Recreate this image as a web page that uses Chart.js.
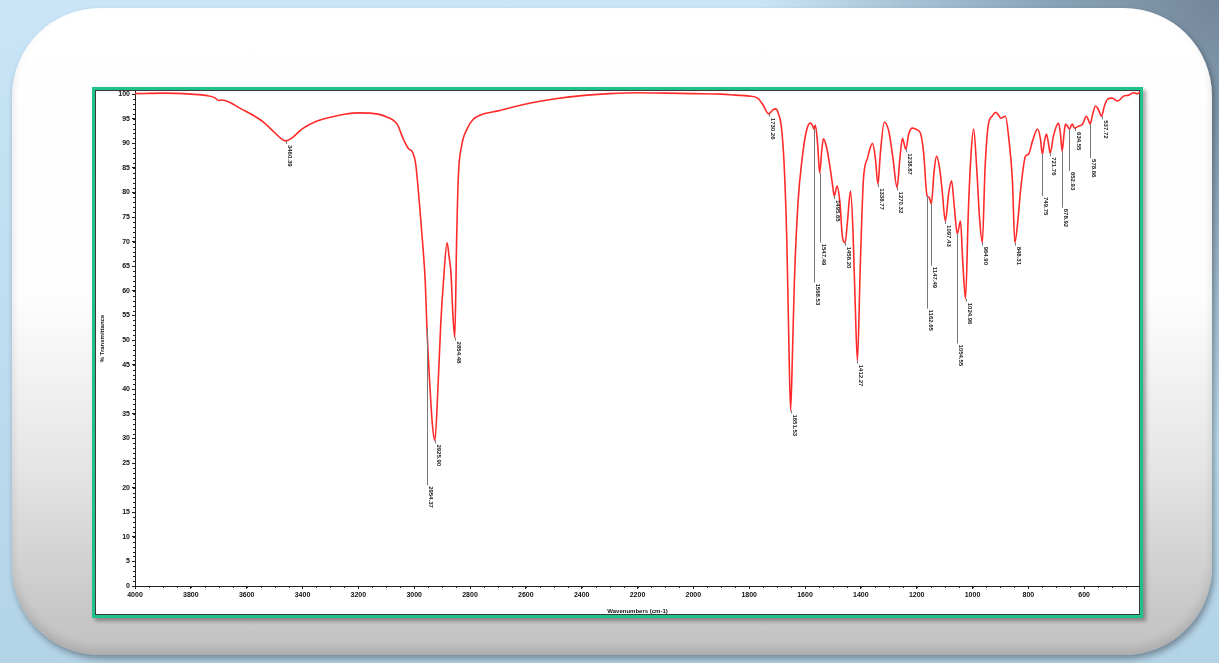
<!DOCTYPE html>
<html>
<head>
<meta charset="utf-8">
<script src="https://cdn.jsdelivr.net/npm/chart.js@4/dist/chart.umd.min.js"></script>
<style>
  html, body { margin: 0; padding: 0; }
  body {
    width: 1219px; height: 663px; overflow: hidden; position: relative;
    background:
      radial-gradient(ellipse 460px 440px at 100% 0%, #74879a 0%, #8aa6ba 40%, rgba(160,200,225,0) 100%),
      linear-gradient(180deg, #c9e5f7 0%, #bcdbee 60%, #b3d3e7 100%);
  }
  .card {
    position: absolute; left: 12px; top: 8px; width: 1200px; height: 647px;
    border-radius: 88px;
    background: linear-gradient(180deg, #ffffff 0%, #fdfdfd 45%, #e4e4e4 72%, #c9c9c9 92%, #c2c2c2 100%);
    box-shadow: 2px 4px 6px rgba(0,0,0,0.35), inset 0 -6px 10px rgba(0,0,0,0.12);
  }
  .frame {
    position: absolute; left: 92px; top: 87px; width: 1045px; height: 525px;
    border: 3px solid #20c28c; background: #fff;
    box-shadow: inset 0 0 0 1px #3a3a3a, 3px 3px 4px rgba(0,0,0,0.35);
  }
  canvas { position: absolute; left: 0; top: -5px; }
</style>
</head>
<body>
<div class="card"></div>
<div class="frame"><canvas id="ftir" width="1045" height="530"></canvas></div>
<script>
// spectrum: wavenumber (cm-1) and % transmittance
const wavenumbers = [
  4000, 3900, 3800, 3740, 3715, 3700, 3690, 3660, 3620, 3580, 3540, 3500, 3475, 3460.39, 3440, 3400,
  3350, 3300, 3250, 3200, 3150, 3100, 3060, 3040, 3020, 3007, 2995, 2980, 2970, 2960, 2954.37, 2945,
  2935, 2925.90, 2915, 2905, 2895, 2882, 2875, 2868, 2862, 2854.48, 2848, 2842, 2830, 2810, 2790, 2760,
  2700, 2600, 2500, 2400, 2300, 2200, 2100, 2000, 1900, 1850, 1800, 1770, 1750, 1730.26, 1715, 1705,
  1695, 1685, 1675, 1665, 1658, 1651.53, 1645, 1638, 1625, 1610, 1595, 1581, 1572, 1568.53, 1563, 1555,
  1547.49, 1540, 1534, 1522, 1510, 1500, 1495.65, 1485, 1475, 1466, 1456.20, 1448, 1437, 1428, 1420, 1412.27,
  1402, 1391, 1376, 1358, 1348, 1338.77, 1330, 1316, 1300, 1285, 1270.32, 1260, 1251, 1238.87, 1228, 1215,
  1200, 1186, 1175, 1162.65, 1155, 1147.49, 1138, 1129, 1118, 1108, 1097.43, 1085, 1075, 1065, 1054.55, 1043,
  1035, 1024.96, 1015, 1005, 996, 985, 975, 964.90, 955, 943, 930, 917, 905, 899, 882, 870,
  857, 848.31, 838, 828, 810, 799, 785, 767, 757, 749.75, 742, 735, 728, 721.76, 710, 692,
  685, 678.92, 672, 667, 660, 652.93, 643, 634.55, 620, 606, 592, 585, 578.66, 570, 559, 550,
  537.72, 528, 516, 500, 480, 459, 440, 423, 410, 400
];
const transmittance = [
  100.1, 100.2, 100.0, 99.7, 99.3, 98.7, 98.8, 98.3, 97.0, 95.8, 94.3, 92.2, 90.9, 90.5, 91.0, 93.0,
  94.5, 95.3, 95.9, 96.2, 96.1, 95.4, 93.8, 91.0, 88.9, 88.3, 86.0, 77.0, 70.0, 61.5, 52.5, 42.0,
  33.0, 29.6, 40.0, 53.0, 62.0, 69.8, 67.0, 63.5, 56.0, 50.5, 70.0, 83.0, 89.5, 93.0, 94.8, 95.8,
  96.6, 98.0, 99.0, 99.7, 100.1, 100.3, 100.2, 100.1, 100.0, 99.8, 99.6, 99.2, 97.8, 96.0, 96.8, 97.0,
  96.0, 93.5, 86.0, 70.0, 50.0, 35.7, 47.0, 62.0, 78.0, 87.0, 92.5, 94.1, 93.5, 92.9, 93.7, 90.0,
  84.0, 88.5, 90.9, 89.0, 85.0, 81.0, 79.3, 81.3, 78.0, 71.0, 69.8, 74.0, 80.3, 72.0, 57.0, 45.8,
  65.0, 82.4, 87.0, 90.0, 87.0, 81.7, 88.0, 94.3, 92.5, 87.0, 81.0, 87.0, 91.0, 88.8, 92.0, 93.1,
  92.8, 92.0, 88.0, 79.3, 79.0, 77.7, 84.0, 87.4, 85.0, 80.0, 74.2, 80.0, 82.4, 77.0, 71.6, 74.2,
  66.0, 58.4, 76.0, 88.0, 92.9, 85.0, 75.0, 69.8, 85.0, 93.9, 95.5, 96.3, 95.6, 95.1, 95.5, 91.0,
  82.4, 69.8, 74.0, 80.3, 87.4, 87.8, 90.5, 92.9, 91.0, 87.8, 90.5, 91.9, 90.0, 88.0, 91.5, 94.1,
  92.0, 88.4, 92.0, 93.9, 93.5, 92.9, 93.9, 93.1, 93.5, 93.9, 95.5, 94.8, 93.9, 95.8, 97.6, 97.0,
  95.5, 97.5, 99.0, 99.2, 98.6, 99.6, 99.8, 100.3, 100.1, 100.4
];

// labelled peaks; peakLabelLevel = % where a long leader ends (null = label right under the peak)
const peakWn = [
  3460.39, 2954.37, 2925.90, 2854.48, 1730.26, 1651.53, 1568.53, 1547.49, 1495.65, 1456.20,
  1412.27, 1338.77, 1270.32, 1238.87, 1162.65, 1147.49, 1097.43, 1054.55, 1024.96, 964.90,
  848.31, 749.75, 721.76, 678.92, 652.93, 634.55, 578.66, 537.72
];
const peakLabelLevel = [
  null, 20.5, null, null, null, null, 61.7, 69.8, null, null,
  null, null, null, null, 56.4, 65.1, null, 49.3, null, null,
  null, 79.3, null, 76.9, 84.4, null, 87.0, null
];

const xTickValues = [4000, 3800, 3600, 3400, 3200, 3000, 2800, 2600, 2400, 2200, 2000, 1800, 1600, 1400, 1200, 1000, 800, 600];
const yTickValues = [0, 5, 10, 15, 20, 25, 30, 35, 40, 45, 50, 55, 60, 65, 70, 75, 80, 85, 90, 95, 100];

const points = wavenumbers.map(function(w, i){ return {x: w, y: transmittance[i]}; });

// small minor ticks + peak labels
const extras = {
  id: 'extras',
  afterDraw(chart) {
    const c = chart.ctx, xs = chart.scales.x, ys = chart.scales.y;
    const left = chart.chartArea.left, bottom = chart.chartArea.bottom;
    c.save();
    c.strokeStyle = '#222';
    c.lineWidth = 1;
    c.beginPath();
    for (let v = 0; v <= 100; v++) {
      const py = Math.round(ys.getPixelForValue(v)) + 0.5;
      c.moveTo(left - 2, py); c.lineTo(left, py);
    }
    for (let w = 4000; w >= 400; w -= 50) {
      const px = Math.round(xs.getPixelForValue(w)) + 0.5;
      c.moveTo(px, bottom); c.lineTo(px, bottom + 2);
    }
    c.stroke();

    c.font = 'bold 6px "Liberation Sans", Arial, sans-serif';
    c.fillStyle = '#222';
    c.textAlign = 'left';
    c.textBaseline = 'middle';
    peakWn.forEach(function(w, j){
      const i = wavenumbers.indexOf(w);
      const px = Math.round(xs.getPixelForValue(w)) + 0.5;
      const py = ys.getPixelForValue(transmittance[i]);
      let top = py + 3;
      if (peakLabelLevel[j] !== null) {
        top = ys.getPixelForValue(peakLabelLevel[j]);
      }
      c.strokeStyle = '#777';
      c.beginPath();
      c.moveTo(px, py); c.lineTo(px, top);
      c.stroke();
      c.save();
      c.translate(px + 3, top + 1);
      c.rotate(Math.PI / 2);
      c.fillText(w.toFixed(2), 0, 0);
      c.restore();
    });
    c.restore();
  }
};

const tickFont = {family: '"Liberation Sans", Arial, sans-serif', size: 7, weight: 'bold'};

new Chart(document.getElementById('ftir').getContext('2d'), {
  type: 'line',
  data: {
    datasets: [{
      data: points,
      borderColor: '#ff2a2a',
      borderWidth: 1.6,
      pointRadius: 0,
      cubicInterpolationMode: 'monotone',
      fill: false
    }]
  },
  options: {
    responsive: false,
    animation: false,
    devicePixelRatio: 1,
    layout: {padding: 0},
    plugins: {legend: {display: false}, tooltip: {enabled: false}},
    scales: {
      x: {
        type: 'linear',
        reverse: true,
        min: 400,
        max: 4000,
        afterBuildTicks: function(s){ s.ticks = xTickValues.map(function(v){ return {value: v}; }); },
        afterFit: function(s){ s.height = 29; },
        ticks: {font: tickFont, color: '#111', padding: 2, maxRotation: 0, autoSkip: false,
                callback: function(v){ return String(v); }},
        grid: {drawOnChartArea: false, drawTicks: true, tickLength: 3, color: '#222'},
        border: {color: '#222', width: 1},
        title: {display: true, text: 'Wavenumbers (cm-1)', font: {family: tickFont.family, size: 6, weight: 'bold'}, color: '#111', padding: 0}
      },
      y: {
        min: 0,
        max: 100.6,
        afterBuildTicks: function(s){ s.ticks = yTickValues.map(function(v){ return {value: v}; }); },
        afterFit: function(s){ s.width = 40; },
        ticks: {font: tickFont, color: '#111', padding: 2, callback: function(v){ return String(v); }},
        grid: {drawOnChartArea: false, drawTicks: true, tickLength: 3, color: '#222'},
        border: {color: '#222', width: 1},
        title: {display: true, text: '% Transmittance', font: {family: tickFont.family, size: 6, weight: 'bold'}, color: '#111', padding: {top: 4, bottom: 0}}
      }
    }
  },
  plugins: [extras]
});
</script>
</body>
</html>
